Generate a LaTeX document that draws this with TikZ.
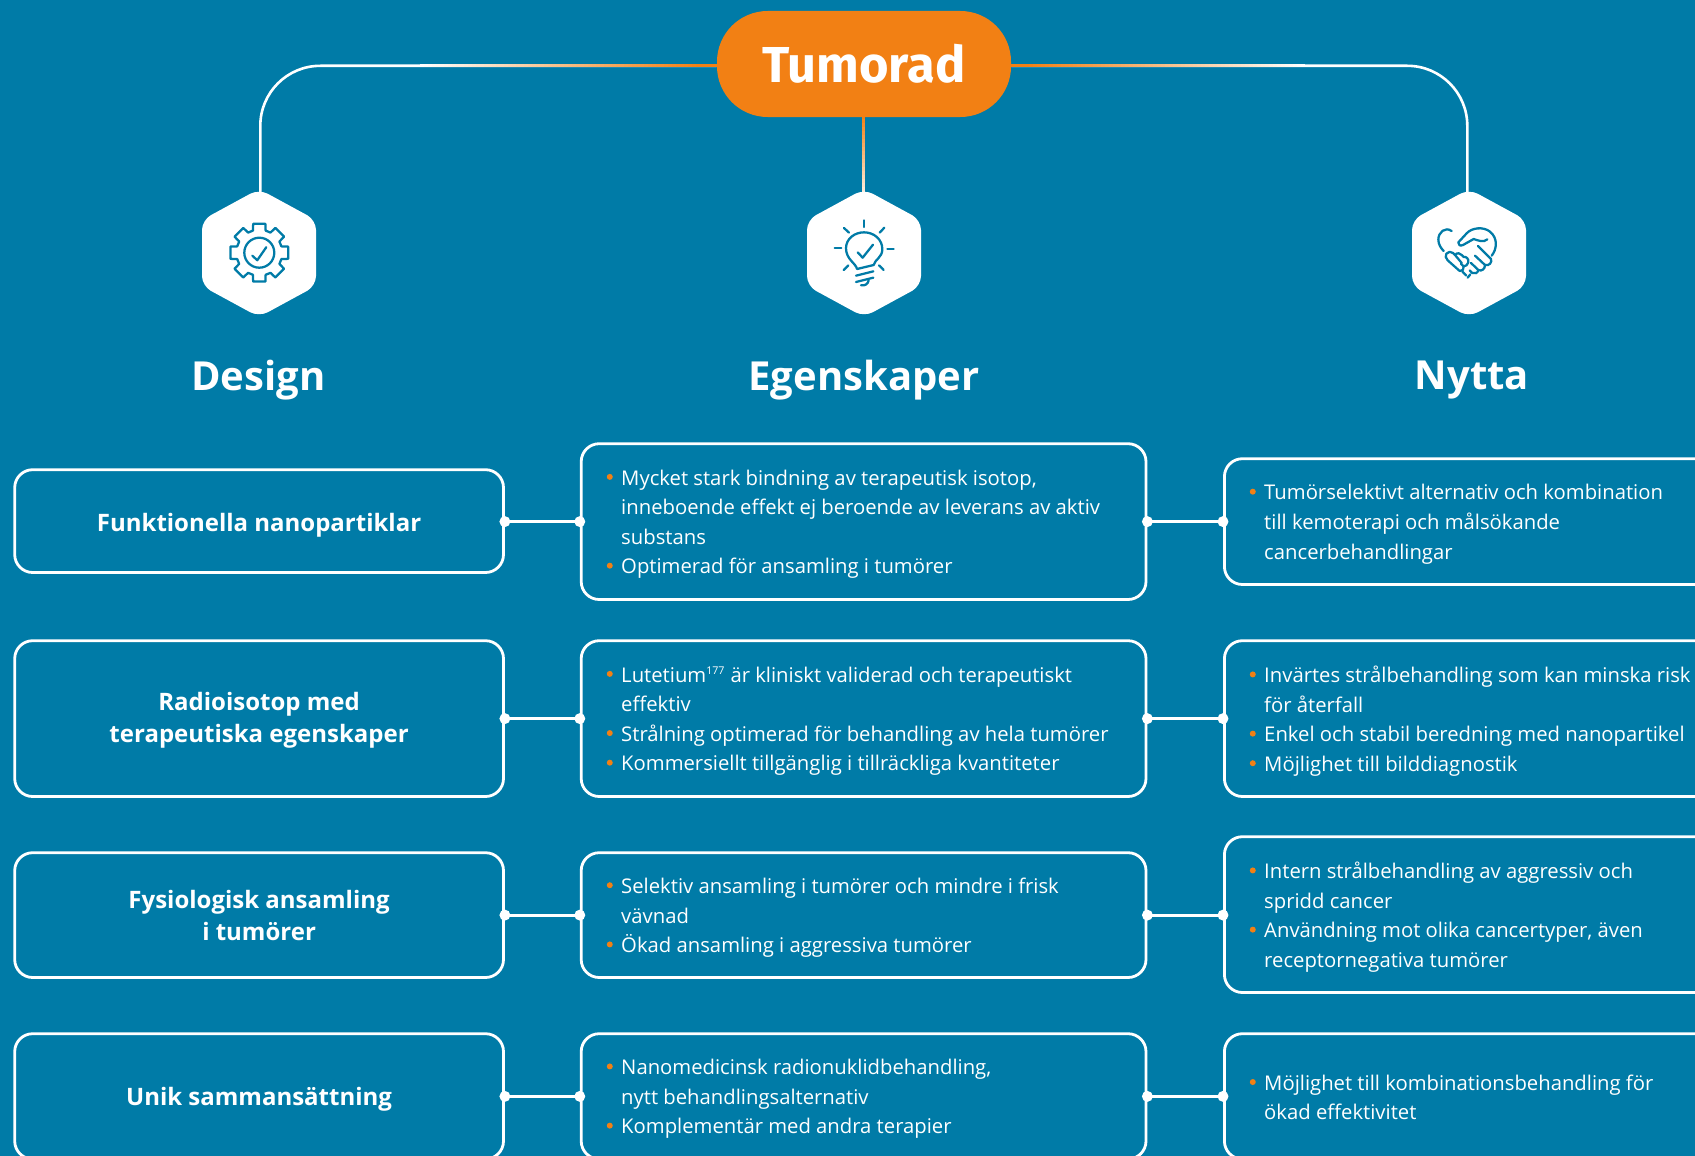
\documentclass[tikz,border=0pt]{standalone}
\usepackage{fontspec}
\setmainfont{Open Sans}
\newfontfamily\titlefont{Fira Sans}
\usetikzlibrary{calc}
\definecolor{bg}{HTML}{007BA7}
\definecolor{accent}{HTML}{F28014}
\newcommand{\bul}{\makebox[10.85pt][l]{\raisebox{3.9pt}{\tikz\fill[accent] (0,0) circle (2.25pt);}}}
\newcommand{\cont}{\hspace*{10.85pt}}
\newcommand{\supnum}[1]{\smash{\raisebox{5.6pt}{\fontsize{8}{8}\selectfont #1}}\kern0.5pt\relax}
\tikzset{
  x=0.75pt,y=-0.75pt,
  conn/.style={draw=white,line width=2.1pt},
  topconn/.style={draw=white,line width=1.95pt,rounded corners=45pt},
  box/.style={draw=white,line width=2.1pt,rounded corners=13.5pt,inner sep=0pt,anchor=north west},
  title/.style={font=\titlefont\bfseries\fontsize{37.9}{38}\selectfont,text=white,inner sep=0pt},
  headingtext/.style={font=\bfseries\fontsize{30}{36}\selectfont,text=white,inner sep=0pt},
  boxlabel/.style={font=\bfseries\fontsize{18}{23.8}\selectfont,text=white,align=center,inner sep=0pt},
  body/.style={font=\fontsize{15.2}{22.2}\selectfont,text=white,align=left,inner sep=0pt,anchor=west},
  dot/.style={circle,fill=white,inner sep=0pt,minimum size=8.2pt},
  icon/.style={draw=bg,line width=1.7pt,line cap=round,line join=round},
  hexfill/.style={fill=white,rounded corners=7.5pt},
}
\begin{document}
\begin{tikzpicture}
\useasboundingbox (0,0) rectangle (1695,1156);
\fill[bg] (0,0) rectangle (1695,1156);
\clip (0,0) rectangle (1695,1156);

% centres
\coordinate (hexL) at (259,253);
\coordinate (hexM) at (864,253);
\coordinate (hexR) at (1469,253);
\coordinate (hexLtop) at (260.3,200);
\coordinate (hexMtop) at (863.8,200);
\coordinate (hexRtop) at (1467.3,200);

\node[fill=accent,rounded corners=38pt,minimum width=220.5pt,minimum height=79.5pt,inner sep=0pt] (pill) at (864,64) {};

% connectors
\draw[topconn] ($(pill.west)+(0,1.8)$) -| (hexLtop);
\draw[topconn] ($(pill.east)+(0,1.8)$) -| (hexRtop);
% colour runs: white towards the hexagons, orange at the pill
\foreach \i in {0,...,69}{
  \pgfmathsetmacro{\pct}{100-\i*100/69}
  \pgfmathsetmacro{\xa}{420+\i*4}
  \pgfmathsetmacro{\xb}{\xa+5}
  \pgfmathsetmacro{\xc}{1305-\i*4}
  \pgfmathsetmacro{\xd}{\xc-5}
  \fill[white!\pct!accent] (\xa,64.5) rectangle (\xb,67.1);
  \fill[white!\pct!accent] (\xc,64.5) rectangle (\xd,67.1);
}
\fill[accent] (698,64.5) rectangle (718,67.1);
\fill[accent] (1010,64.5) rectangle (1028,67.1);
\foreach \i in {0,...,20}{
  \pgfmathsetmacro{\pct}{\i*92/20}
  \pgfmathsetmacro{\ya}{115+\i*4}
  \pgfmathsetmacro{\yb}{\ya+5}
  \fill[white!\pct!accent] (862.4,\ya) rectangle (865.0,\yb);
}

% hexagons
\foreach \c in {hexL,hexM,hexR}{
  \path[hexfill] ($(\c)+(0,-64)$) -- ($(\c)+(57,-33)$) -- ($(\c)+(57,33)$) -- ($(\c)+(0,64)$) -- ($(\c)+(-57,33)$) -- ($(\c)+(-57,-33)$) -- cycle;
}

\node[title] (ttitle) at (864,64) {Tumorad};

% gear icon
\begin{scope}[shift={(259.3,252.7)}]
  \draw[icon] (-16:23) \foreach \a in {0,45,...,315}{ -- (\a-16:23) -- (\a-12:29.5) -- (\a+12:29.5) -- (\a+16:23) -- (\a+29:23)} -- cycle;
  \draw[icon] (0,0) circle (15);
  \draw[icon] (-7,3) -- (-2,7.5) -- (7,-5.5);
\end{scope}

% bulb icon (coordinates of a 3x crop)
\begin{scope}[shift={(760,170)},x=0.25pt,y=-0.25pt]
  \draw[icon] (312,151) -- (312,171);
  \draw[icon] (224,235) -- (244,235);
  \draw[icon] (382,238) -- (401,238);
  \draw[icon] (252,174) -- (267,188);
  \draw[icon] (373,173) -- (359,188);
  \draw[icon] (251,300) -- (265,286);
  \draw[icon] (371,300) -- (357,286);
  \draw[icon] (291,297) .. controls (288,280) and (258,268) .. (258,235)
     .. controls (258,205) and (285,187) .. (312,187)
     .. controls (342,187) and (367,208) .. (367,238)
     .. controls (367,262) and (345,268) .. (341,285) -- cycle;
  \draw[icon] (288,317) -- (340,304);
  \draw[icon] (288,336) -- (340,323);
  \draw[icon] (303,346) .. controls (315,348) and (324,342) .. (326,331);
  \draw[icon] (293,247) -- (308,263) -- (339,224);
\end{scope}

% handshake icon (coordinates of a 3x crop)
\begin{scope}[shift={(1425,215)},x=0.25pt,y=-0.25pt]
  \draw[icon] (80,48) .. controls (60,34) and (40,52) .. (40,74) .. controls (40,88) and (48,100) .. (56,108);
  \draw[icon] (100,82) -- (125,55) .. controls (140,38) and (175,34) .. (195,50) .. controls (220,70) and (215,104) .. (200,122);
  \draw[icon] (100,82) .. controls (98,90) and (106,94) .. (114,90) -- (146,72) .. controls (158,76) and (176,84) .. (187,73);
  \draw[icon] (159,93) -- (198,132) .. controls (202,142) and (192,154) .. (180,150) -- (150,122);
  \draw[icon] (180,150) .. controls (180,162) and (170,170) .. (160,165) -- (138,144);
  \draw[icon] (160,165) .. controls (158,174) and (150,178) .. (142,174) -- (134,166);
  \draw[icon] (64,116) .. controls (70,110) and (78,108) .. (84,114) -- (90,120) .. controls (96,112) and (106,114) .. (110,120) -- (116,126) .. controls (124,124) and (132,132) .. (130,142) .. controls (128,150) and (122,154) .. (116,154) .. controls (118,162) and (112,170) .. (104,168) -- (68,136) .. controls (62,130) and (60,122) .. (64,116);
  \draw[icon] (90,120) -- (110,144);
  \draw[icon] (116,154) -- (108,146);
  \draw[icon] (112,170) -- (124,182);
  \draw[icon] (128,188) -- (136,178);
\end{scope}

% headings
\node[headingtext] (hD) at (258.5,380) {Design};
\node[headingtext] (hE) at (864,380) {Egenskaper};
\node[headingtext] (hN) at (1472,380) {Nytta};

% row 1
\node[box,minimum width=366.6pt,minimum height=77.1pt] (a1) at (13.3,468.3) {};
\node[box,minimum width=423.6pt,minimum height=116.85pt] (b1) at (579.8,442.3) {};
\node[box,minimum width=500pt,minimum height=94.35pt] (c1) at (1223,457.3) {};
% row 2
\node[box,minimum width=366.6pt,minimum height=116.85pt] (a2) at (13.3,639.3) {};
\node[box,minimum width=423.6pt,minimum height=116.85pt] (b2) at (579.8,639.3) {};
\node[box,minimum width=500pt,minimum height=116.85pt] (c2) at (1223,639.3) {};
% row 3
\node[box,minimum width=366.6pt,minimum height=93.6pt] (a3) at (13.3,851.3) {};
\node[box,minimum width=423.6pt,minimum height=93.6pt] (b3) at (579.8,851.3) {};
\node[box,minimum width=500pt,minimum height=116.85pt] (c3) at (1223,835.3) {};
% row 4
\node[box,minimum width=366.6pt,minimum height=94pt] (a4) at (13.3,1032.3) {};
\node[box,minimum width=423.6pt,minimum height=94pt] (b4) at (579.8,1032.3) {};
\node[box,minimum width=500pt,minimum height=94pt] (c4) at (1223,1032.3) {};

\foreach \r in {1,2,3,4}{
  \coordinate (cw) at (c\r.west);
  \draw[conn] (a\r.east |- b\r.west) -- (b\r.west);
  \draw[conn] (b\r.east) -- (b\r.east -| cw);
  \node[dot] at (a\r.east |- b\r.west) {};
  \node[dot] at (b\r.west) {};
  \node[dot] at (b\r.east) {};
  \node[dot] at (b\r.east -| cw) {};
}

% left labels
\node[boxlabel] (la1) at ($(a1.center)+(0,4.5)$) {Funktionella nanopartiklar};
\node[boxlabel] (la2) at ($(a2.center)+(0,1.5)$) {Radioisotop med\\terapeutiska egenskaper};
\node[boxlabel] (la3) at ($(a3.center)+(0,0.5)$) {Fysiologisk ansamling\\i tumörer};
\node[boxlabel] (la4) at ($(a4.center)+(0,2.5)$) {Unik sammansättning};

% bodies
\node[body] (tb1) at ($(b1.west)+(26.7,2.6)$) {\bul Mycket stark bindning av terapeutisk isotop,\\\cont inneboende effekt ej beroende av leverans av aktiv\\\cont substans\\\bul Optimerad för ansamling i tumörer};
\node[body] (tc1) at ($(c1.west)+(26.5,2.6)$) {\bul Tumörselektivt alternativ och kombination\\\cont till kemoterapi och målsökande\\\cont cancerbehandlingar};
\node[body] (tb2) at ($(b2.west)+(26.7,2.6)$) {\bul Lutetium\supnum{177} är kliniskt validerad och terapeutiskt\\\cont effektiv\\\bul Strålning optimerad för behandling av hela tumörer\\\bul Kommersiellt tillgänglig i tillräckliga kvantiteter};
\node[body] (tc2) at ($(c2.west)+(26.5,2.6)$) {\bul Invärtes strålbehandling som kan minska risk\\\cont för återfall\\\bul Enkel och stabil beredning med nanopartikel\\\bul Möjlighet till bilddiagnostik};
\node[body] (tb3) at ($(b3.west)+(26.7,2.6)$) {\bul Selektiv ansamling i tumörer och mindre i frisk\\\cont vävnad\\\bul Ökad ansamling i aggressiva tumörer};
\node[body] (tc3) at ($(c3.west)+(26.5,2.6)$) {\bul Intern strålbehandling av aggressiv och\\\cont spridd cancer\\\bul Användning mot olika cancertyper, även\\\cont receptornegativa tumörer};
\node[body] (tb4) at ($(b4.west)+(26.7,2.6)$) {\bul Nanomedicinsk radionuklidbehandling,\\\cont nytt behandlingsalternativ\\\bul Komplementär med andra terapier};
\node[body] (tc4) at ($(c4.west)+(26.5,1)$) {\bul Möjlighet till kombinationsbehandling för\\\cont ökad effektivitet};
\end{tikzpicture}
\end{document}
